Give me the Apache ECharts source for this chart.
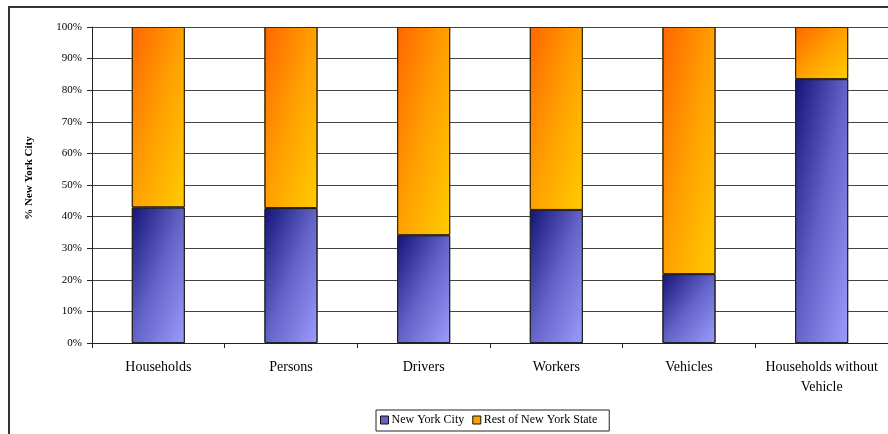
<!DOCTYPE html>
<html>
<head>
<meta charset="utf-8">
<script src="https://cdn.jsdelivr.net/npm/echarts@6/dist/echarts.min.js"></script>
<style>
  html, body { margin: 0; padding: 0; background: #fff; }
  #chart { width: 888px; height: 434px; }
</style>
</head>
<body>
<div id="chart"></div>
<script>
// Share of each measure living in New York City vs. the rest of the state (%)
const categories = ['Households', 'Persons', 'Drivers', 'Workers', 'Vehicles', 'Households without\nVehicle'];
const nycShare = [42.9, 42.7, 34.1, 42.1, 21.8, 83.5];
const restShare = nycShare.map(v => +(100 - v).toFixed(1));
const seriesNames = ['New York City', 'Rest of New York State'];

const serif = '"Liberation Serif", "DejaVu Serif", serif';

const blueStops = [
  { offset: 0, color: '#141478' },
  { offset: 0.5, color: '#6464c8' },
  { offset: 1, color: '#9c9cff' }
];
const orangeStops = [
  { offset: 0, color: '#ff6600' },
  { offset: 0.5, color: '#ffa000' },
  { offset: 1, color: '#ffcc00' }
];

// Diagonal fill whose isolines run corner to corner (top-right to bottom-left),
// whatever the segment's aspect ratio.
function diagonalFill(stops, w, h) {
  const r = (w * w) / (h * h);
  const x2 = 2 / (1 + r);
  const y2 = 2 - x2;
  return new echarts.graphic.LinearGradient(0, 0, x2, y2, stops);
}

const chart = echarts.init(document.getElementById('chart'), null, { renderer: 'canvas' });

function buildSeries(pxPerUnit, barPx) {
  const mk = (vals, stops) => vals.map(v => ({
    value: v,
    itemStyle: { color: diagonalFill(stops, barPx, Math.max(v * pxPerUnit, 1)) }
  }));
  return [
    {
      name: seriesNames[0],
      type: 'bar',
      stack: 'share',
      data: mk(nycShare, blueStops),
      barWidth: '40%',
      itemStyle: { color: '#6464c8', borderColor: '#222', borderWidth: 1 }
    },
    {
      name: seriesNames[1],
      type: 'bar',
      stack: 'share',
      data: mk(restShare, orangeStops),
      barWidth: '40%',
      itemStyle: { color: '#ffa000', borderColor: '#3a2a00', borderWidth: 1 }
    }
  ];
}

chart.setOption({
  animation: false,
  backgroundColor: '#fff',
  graphic: [{
    type: 'rect',
    shape: { x: 9, y: 7, width: 900, height: 450 },
    style: { fill: 'none', stroke: '#333', lineWidth: 2 },
    silent: true,
    z: -1
  }],
  grid: { left: 92, right: -1, top: 27, bottom: 91, containLabel: false },
  legend: {
    data: seriesNames.map(n => ({ name: n, itemStyle: { borderColor: '#111', borderWidth: 1 } })),
    left: 376,
    top: 410,
    orient: 'horizontal',
    icon: 'rect',
    itemWidth: 8,
    itemHeight: 8,
    itemGap: 8,
    padding: [4, 12, 5, 4],
    borderColor: '#222',
    borderWidth: 1,
    textStyle: { fontFamily: serif, fontSize: 12, color: '#000', padding: [0, 0, 0, -2] }
  },
  xAxis: {
    type: 'category',
    data: categories,
    boundaryGap: true,
    axisLine: { lineStyle: { color: '#222', width: 1 } },
    axisTick: { show: true, length: 5, alignWithLabel: false, lineStyle: { color: '#222' } },
    axisLabel: {
      interval: 0,
      margin: 14,
      fontFamily: serif,
      fontSize: 14,
      color: '#000',
      lineHeight: 20
    }
  },
  yAxis: {
    type: 'value',
    min: 0,
    max: 100,
    interval: 10,
    name: '% New York City',
    nameLocation: 'middle',
    nameGap: 57,
    nameRotate: 90,
    nameTextStyle: { fontFamily: serif, fontSize: 11, fontWeight: 'bold', color: '#000', padding: [0, 0, 0, 14] },
    axisLine: { show: true, lineStyle: { color: '#222', width: 1 } },
    axisTick: { show: true, length: 5, inside: false, lineStyle: { color: '#222' } },
    axisLabel: {
      formatter: '{value}%',
      margin: 10,
      fontFamily: serif,
      fontSize: 11,
      color: '#000'
    },
    splitLine: { show: true, lineStyle: { color: '#444', width: 1 } }
  },
  series: buildSeries(3, 53)
});

// Refine gradient geometry from the axes' actual pixel scale.
const y0 = chart.convertToPixel({ yAxisIndex: 0 }, 0);
const y100 = chart.convertToPixel({ yAxisIndex: 0 }, 100);
const x0 = chart.convertToPixel({ xAxisIndex: 0 }, categories[0]);
const x1 = chart.convertToPixel({ xAxisIndex: 0 }, categories[1]);
chart.setOption({ series: buildSeries(Math.abs(y0 - y100) / 100, Math.abs(x1 - x0) * 0.4) });
</script>
</body>
</html>
